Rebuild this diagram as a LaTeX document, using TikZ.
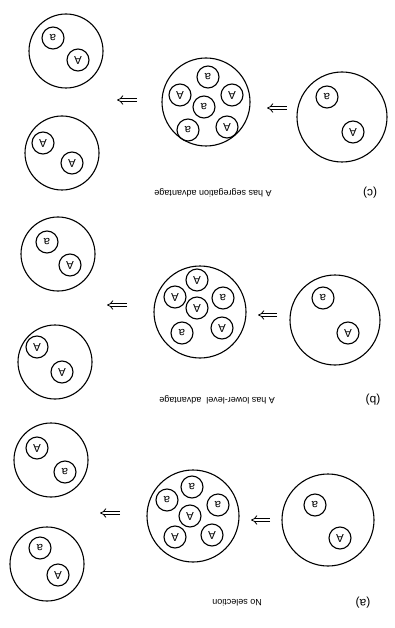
\documentclass[tikz,border=0pt]{standalone}
\usepackage{fontspec}
\setmainfont{Liberation Sans}
\usetikzlibrary{arrows.meta}
\tikzset{
  outer/.style={circle, draw, line width=1.1pt, inner sep=0pt},
  cell/.style={circle, draw, line width=1.1pt, minimum size=22pt, inner sep=0pt, font=\fontsize{11.5}{12}\selectfont, rotate=180},
  lab/.style={font=\fontsize{9}{10}\selectfont, rotate=180, inner sep=0pt},
  plab/.style={font=\fontsize{12}{13}\selectfont, rotate=180, inner sep=0pt},
  flow/.style={double, double distance=2.4pt, line width=0.8pt, -{Implies}},
}
\begin{document}
\begin{tikzpicture}[x=1pt,y=-1pt]
\useasboundingbox[fill=white] (0,0) rectangle (395,628);
% ---------- panel (c) ----------
\node[outer, minimum size=90pt] (cR) at (342,117) {};
\node[cell] (cR1) at (327,97) {a};
\node[cell] (cR2) at (353,132) {A};
\node[outer, minimum size=88pt] (cM) at (206,102) {};
\node[cell] (cM1) at (208,77) {a};
\node[cell] (cM2) at (180,95) {A};
\node[cell] (cM3) at (232,95) {A};
\node[cell] (cM4) at (204,107) {a};
\node[cell] (cM5) at (188,130) {a};
\node[cell] (cM6) at (227,127) {A};
\node[outer, minimum size=74pt] (cT) at (66,51) {};
\node[cell] (cT1) at (53,38) {a};
\node[cell] (cT2) at (78,60) {A};
\node[outer, minimum size=74pt] (cB) at (62,153) {};
\node[cell] (cB1) at (43,143) {A};
\node[cell] (cB2) at (72,163) {A};
\coordinate (cA1s) at (287,108); \coordinate (cA1e) at (267,108);
\coordinate (cA2s) at (137,100); \coordinate (cA2e) at (117,100);
\draw[flow] (cA1s) -- (cA1e);
\draw[flow] (cA2s) -- (cA2e);
\node[lab] (cL) at (213,193) {A has segregation advantage};
\node[plab] (cP) at (370,193) {(c)};
% ---------- panel (b) ----------
\node[outer, minimum size=90pt] (bR) at (335,320) {};
\node[cell] (bR1) at (323,298) {a};
\node[cell] (bR2) at (348,333) {A};
\node[outer, minimum size=92pt] (bM) at (200,312) {};
\node[cell] (bM1) at (197,280) {A};
\node[cell] (bM2) at (175,297) {A};
\node[cell] (bM3) at (223,298) {a};
\node[cell] (bM4) at (197,308) {A};
\node[cell] (bM5) at (182,333) {a};
\node[cell] (bM6) at (222,328) {A};
\node[outer, minimum size=74pt] (bT) at (58,254) {};
\node[cell] (bT1) at (47,242) {a};
\node[cell] (bT2) at (70,265) {A};
\node[outer, minimum size=74pt] (bB) at (55,362) {};
\node[cell] (bB1) at (37,347) {A};
\node[cell] (bB2) at (62,372) {A};
\coordinate (bA1s) at (277,315); \coordinate (bA1e) at (258,315);
\coordinate (bA2s) at (127,305); \coordinate (bA2e) at (107,305);
\draw[flow] (bA1s) -- (bA1e);
\draw[flow] (bA2s) -- (bA2e);
\node[lab] (bL) at (217,400) {A has lower-level\ \ advantage};
\node[plab] (bP) at (373,400) {(b)};
% ---------- panel (a) ----------
\node[outer, minimum size=92pt] (aR) at (328,520) {};
\node[cell] (aR1) at (315,505) {a};
\node[cell] (aR2) at (340,538) {A};
\node[outer, minimum size=92pt] (aM) at (193,516) {};
\node[cell] (aM1) at (192,487) {a};
\node[cell] (aM2) at (167,500) {a};
\node[cell] (aM3) at (218,505) {a};
\node[cell] (aM4) at (190,516) {A};
\node[cell] (aM5) at (175,537) {A};
\node[cell] (aM6) at (212,535) {A};
\node[outer, minimum size=74pt] (aT) at (51,460) {};
\node[cell] (aT1) at (37,448) {A};
\node[cell] (aT2) at (65,472) {a};
\node[outer, minimum size=74pt] (aB) at (47,564) {};
\node[cell] (aB1) at (40,548) {a};
\node[cell] (aB2) at (58,575) {A};
\coordinate (aA1s) at (270,520); \coordinate (aA1e) at (251,520);
\coordinate (aA2s) at (120,513); \coordinate (aA2e) at (100,513);
\draw[flow] (aA1s) -- (aA1e);
\draw[flow] (aA2s) -- (aA2e);
\node[lab] (aL) at (237,603) {No selection};
\node[plab] (aP) at (363,603) {(a)};
\end{tikzpicture}
\end{document}
